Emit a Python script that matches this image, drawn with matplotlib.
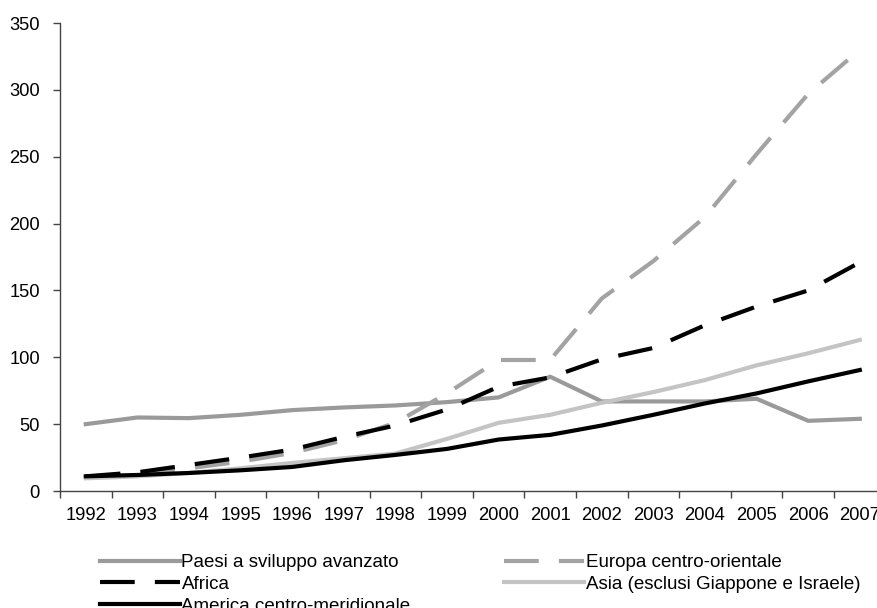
import matplotlib.pyplot as plt

plt.rcParams['font.family'] = ['Liberation Sans', 'DejaVu Sans']
plt.rcParams['lines.scale_dashes'] = False

anni = [str(a) for a in range(1992, 2008)]

paesi_avanzati = [50, 55, 54.5, 57, 60.5, 62.5, 64, 66.5, 70, 85.5, 67, 67, 67, 69, 52.5, 54]
europa_co = [10, 13, 17, 22, 28.5, 38, 51, 73, 98, 98, 144, 172, 205, 252, 297, 330]
africa = [11, 14, 19.5, 25, 31, 40.5, 49, 61, 78, 85, 98.5, 107, 124, 138, 150, 171]
asia = [9.5, 11, 13.5, 17, 21, 24.5, 28, 39, 51, 57, 66, 74, 83, 94, 103, 113]
america_cm = [11, 12, 13.5, 15.5, 18, 23, 27, 31.5, 38.5, 42, 49, 57, 65.5, 73, 82, 90.5]

fs = 13.2

fig = plt.figure(figsize=(8.77, 6.08), dpi=100)
# the original is cut on the right: the axes run past the figure edge
ax = fig.add_axes([0.0684, 0.1924, 0.9414, 0.7697])

x = list(range(len(anni)))
dash = (25, 14.5)
lw = 3.0

l1, = ax.plot(x, paesi_avanzati, color='#9a9a9a', lw=lw, label='Paesi a sviluppo avanzato')
l2, = ax.plot(x, europa_co, color='#a3a3a3', lw=lw, dashes=dash, label='Europa centro-orientale')
l3, = ax.plot(x, africa, color='black', lw=lw, dashes=dash, label='Africa')
l4, = ax.plot(x, asia, color='#c4c4c4', lw=lw, label='Asia (esclusi Giappone e Israele)')
l5, = ax.plot(x, america_cm, color='black', lw=lw, label='America centro-meridionale')

ax.set_xlim(-0.5, len(anni) - 0.5)
ax.set_ylim(0, 350)
ax.set_yticks(range(0, 351, 50))

# category ticks at the boundaries, labels in the middle
ax.set_xticks([i - 0.5 for i in range(len(anni) + 1)])
ax.set_xticklabels([])
ax.set_xticks(x, minor=True)
ax.set_xticklabels(anni, minor=True)
ax.tick_params(axis='x', which='major', direction='out', length=5, width=1, color='#444444')
ax.tick_params(axis='x', which='minor', length=0, pad=11.5, labelsize=fs)
ax.tick_params(axis='y', direction='out', length=5, width=1, color='#444444', pad=9.5, labelsize=fs)

for s in ['top', 'right']:
    ax.spines[s].set_visible(False)
for s in ['left', 'bottom']:
    ax.spines[s].set_color('#444444')
    ax.spines[s].set_linewidth(1)

fig.legend(handles=[l1, l3, l5, l2, l4], ncol=2, loc='upper left',
           bbox_to_anchor=(0.1135, 0.0888), frameon=False, fontsize=13.5,
           handlelength=4.27, handletextpad=0.1, labelspacing=0.245,
           columnspacing=4.97, borderpad=0, borderaxespad=0)

plt.savefig('out.png', dpi=100)
plt.close()
